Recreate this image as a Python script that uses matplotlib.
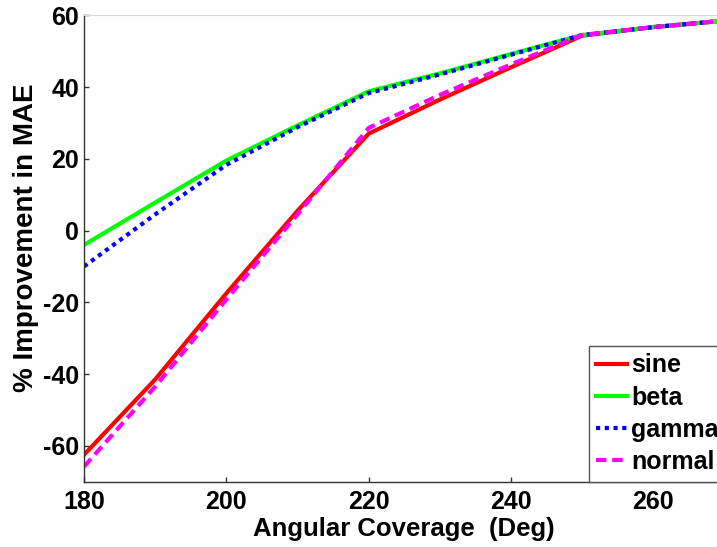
import matplotlib.pyplot as plt

plt.rcParams['font.family'] = ['Liberation Sans', 'DejaVu Sans']
plt.rcParams['font.weight'] = 'bold'
plt.rcParams['axes.unicode_minus'] = False

# angular coverage (deg) and % MAE improvement per window type
coverage = [180, 190, 200, 210, 220, 230, 240, 250, 260, 270]
sine = [-62.5, -41.5, -17.5, 5.5, 27.0, 36.5, 45.5, 54.3, 56.7, 58.5]
beta = [-4.0, 7.8, 19.5, 29.3, 38.8, 43.8, 49.2, 54.5, 56.7, 58.5]
gamma = [-10.0, 4.5, 18.3, 28.8, 38.3, 43.5, 49.0, 54.5, 56.7, 58.5]
normal = [-65.8, -43.5, -19.2, 4.5, 28.6, 37.8, 46.3, 54.5, 56.7, 58.5]

fig = plt.figure(figsize=(7.17, 5.47), dpi=100)
# axes run past the right edge of the canvas
ax = fig.add_axes([0.1172, 0.1194, 0.8933, 0.8527])

ax.plot(coverage, sine, color='#ff0000', lw=3, label='sine')
ax.plot(coverage, beta, color='#00ff00', lw=3, label='beta')
ax.plot(coverage, gamma, color='#0000ff', lw=3, ls=(0, (1, 1.1)), label='gamma')
ax.plot(coverage, normal, color='#ff00ff', lw=3, ls=(0, (2.5, 1.4)), label='normal')

ax.set_xlim(180, 270)
ax.set_ylim(-70, 60)
ax.set_xticks(range(180, 271, 20))
ax.set_yticks(range(-60, 61, 20))

ax.tick_params(direction='in', length=3.6, width=1, color='#333333',
               labelsize=18, labelcolor='black')
ax.tick_params(axis='x', pad=6)
ax.tick_params(axis='y', pad=3.5)
for lab in ax.get_xticklabels() + ax.get_yticklabels():
    lab.set_fontweight('bold')

for side in ('left', 'bottom'):
    ax.spines[side].set_color('#333333')
    ax.spines[side].set_linewidth(1)
ax.spines['top'].set_color('#d9d9d9')
ax.spines['right'].set_visible(False)

ax.set_xlabel('Angular Coverage  (Deg)', fontsize=18.5, fontweight='bold', labelpad=2)
ax.set_ylabel('% Improvement in MAE', fontsize=20, fontweight='bold')
ax.yaxis.set_label_coords(-0.07, 0.5225)

leg = ax.legend(loc='lower left', bbox_to_anchor=(0.788, 0.0), borderaxespad=0,
                fontsize=18, handlelength=1.22, handletextpad=0.17,
                labelspacing=0.33, borderpad=0.3, fancybox=False,
                framealpha=1, edgecolor='#555555')
leg.get_frame().set_linewidth(1)
for t in leg.get_texts():
    t.set_fontweight('bold')

fig.savefig('out.png', dpi=100)
